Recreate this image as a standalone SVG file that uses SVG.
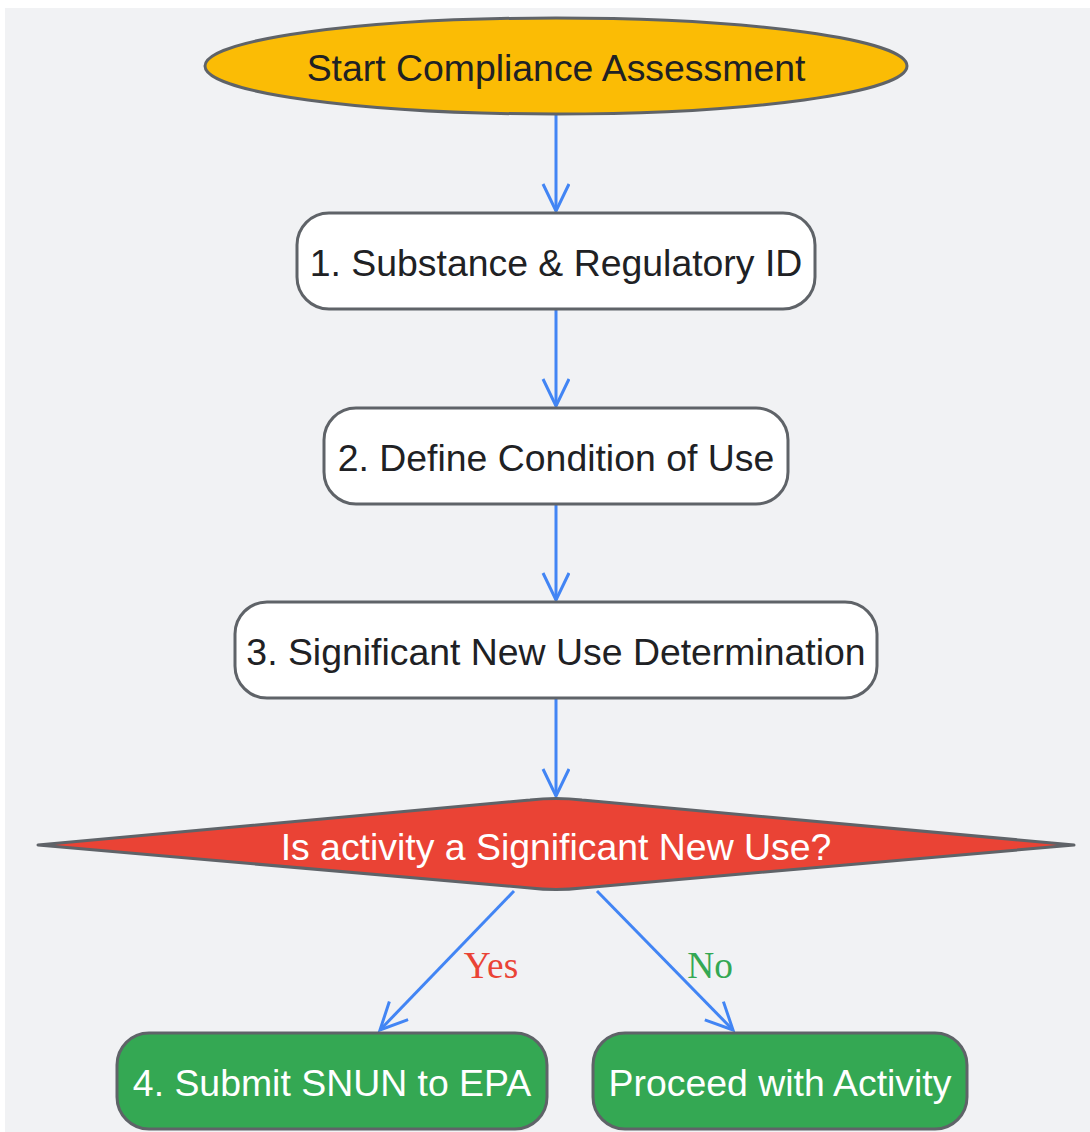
<svg xmlns="http://www.w3.org/2000/svg" width="1090" height="1132" viewBox="0 0 1090 1132">
<defs>
<style>
.nd{stroke:#5f6368;stroke-width:3}
.t{font-family:"Liberation Sans",Arial,sans-serif;font-size:37.4px;text-anchor:middle;dominant-baseline:central}
.dk{fill:#202124}
.wh{fill:#ffffff}
.e{fill:none;stroke:#4285f4;stroke-width:3}
.lb{font-family:"Liberation Serif","Times New Roman",serif;font-size:37.4px;text-anchor:middle;dominant-baseline:central}
</style>
<marker id="ah" markerWidth="32" markerHeight="32" refX="29" refY="14" orient="auto" markerUnits="userSpaceOnUse">
<path d="M2,1 L29,14 L2,27" fill="none" stroke="#4285f4" stroke-width="3"/>
</marker>
</defs>
<rect x="0" y="0" width="1090" height="1132" fill="#ffffff"/>
<rect x="5" y="8" width="1085" height="1124" fill="#f1f2f4"/>
<g id="connectors">
<line class="e" x1="556" y1="114" x2="556" y2="211" marker-end="url(#ah)"/>
<line class="e" x1="556" y1="309" x2="556" y2="406" marker-end="url(#ah)"/>
<line class="e" x1="556" y1="504" x2="556" y2="600" marker-end="url(#ah)"/>
<line class="e" x1="556" y1="698" x2="556" y2="796" marker-end="url(#ah)"/>
<line class="e" x1="514" y1="891" x2="380" y2="1030" marker-end="url(#ah)"/>
<line class="e" x1="597" y1="891" x2="733" y2="1030" marker-end="url(#ah)"/>
<text class="lb" x="491" y="965" fill="#ea4335">Yes</text>
<text class="lb" x="710" y="965" fill="#34a853">No</text>
</g>
<g id="start">
<ellipse class="nd" cx="556" cy="66" rx="351" ry="48" fill="#fbbc05"/>
<text class="t dk" x="556" y="68">Start Compliance Assessment</text>
</g>
<g id="step1">
<rect class="nd" x="297" y="213" width="518" height="96" rx="32" fill="#ffffff"/>
<text class="t dk" x="556" y="263">1. Substance &amp; Regulatory ID</text>
</g>
<g id="step2">
<rect class="nd" x="324" y="408" width="464" height="96" rx="32" fill="#ffffff"/>
<text class="t dk" x="556" y="458">2. Define Condition of Use</text>
</g>
<g id="step3">
<rect class="nd" x="235" y="602" width="642" height="96" rx="32" fill="#ffffff"/>
<text class="t dk" x="556" y="652">3. Significant New Use Determination</text>
</g>
<g id="decision">
<path class="nd" d="M38,845 L530,800 Q556,797 582,800 L1074,845 L582,888 Q556,891 530,888 Z" fill="#ea4335" stroke-linejoin="round"/>
<text class="t wh" x="556" y="847">Is activity a Significant New Use?</text>
</g>
<g id="step4">
<rect class="nd" x="117" y="1033" width="430" height="96" rx="32" fill="#34a853"/>
<text class="t wh" x="332" y="1083">4. Submit SNUN to EPA</text>
</g>
<g id="proceed">
<rect class="nd" x="593" y="1033" width="374" height="96" rx="32" fill="#34a853"/>
<text class="t wh" x="780" y="1083">Proceed with Activity</text>
</g>
</svg>
